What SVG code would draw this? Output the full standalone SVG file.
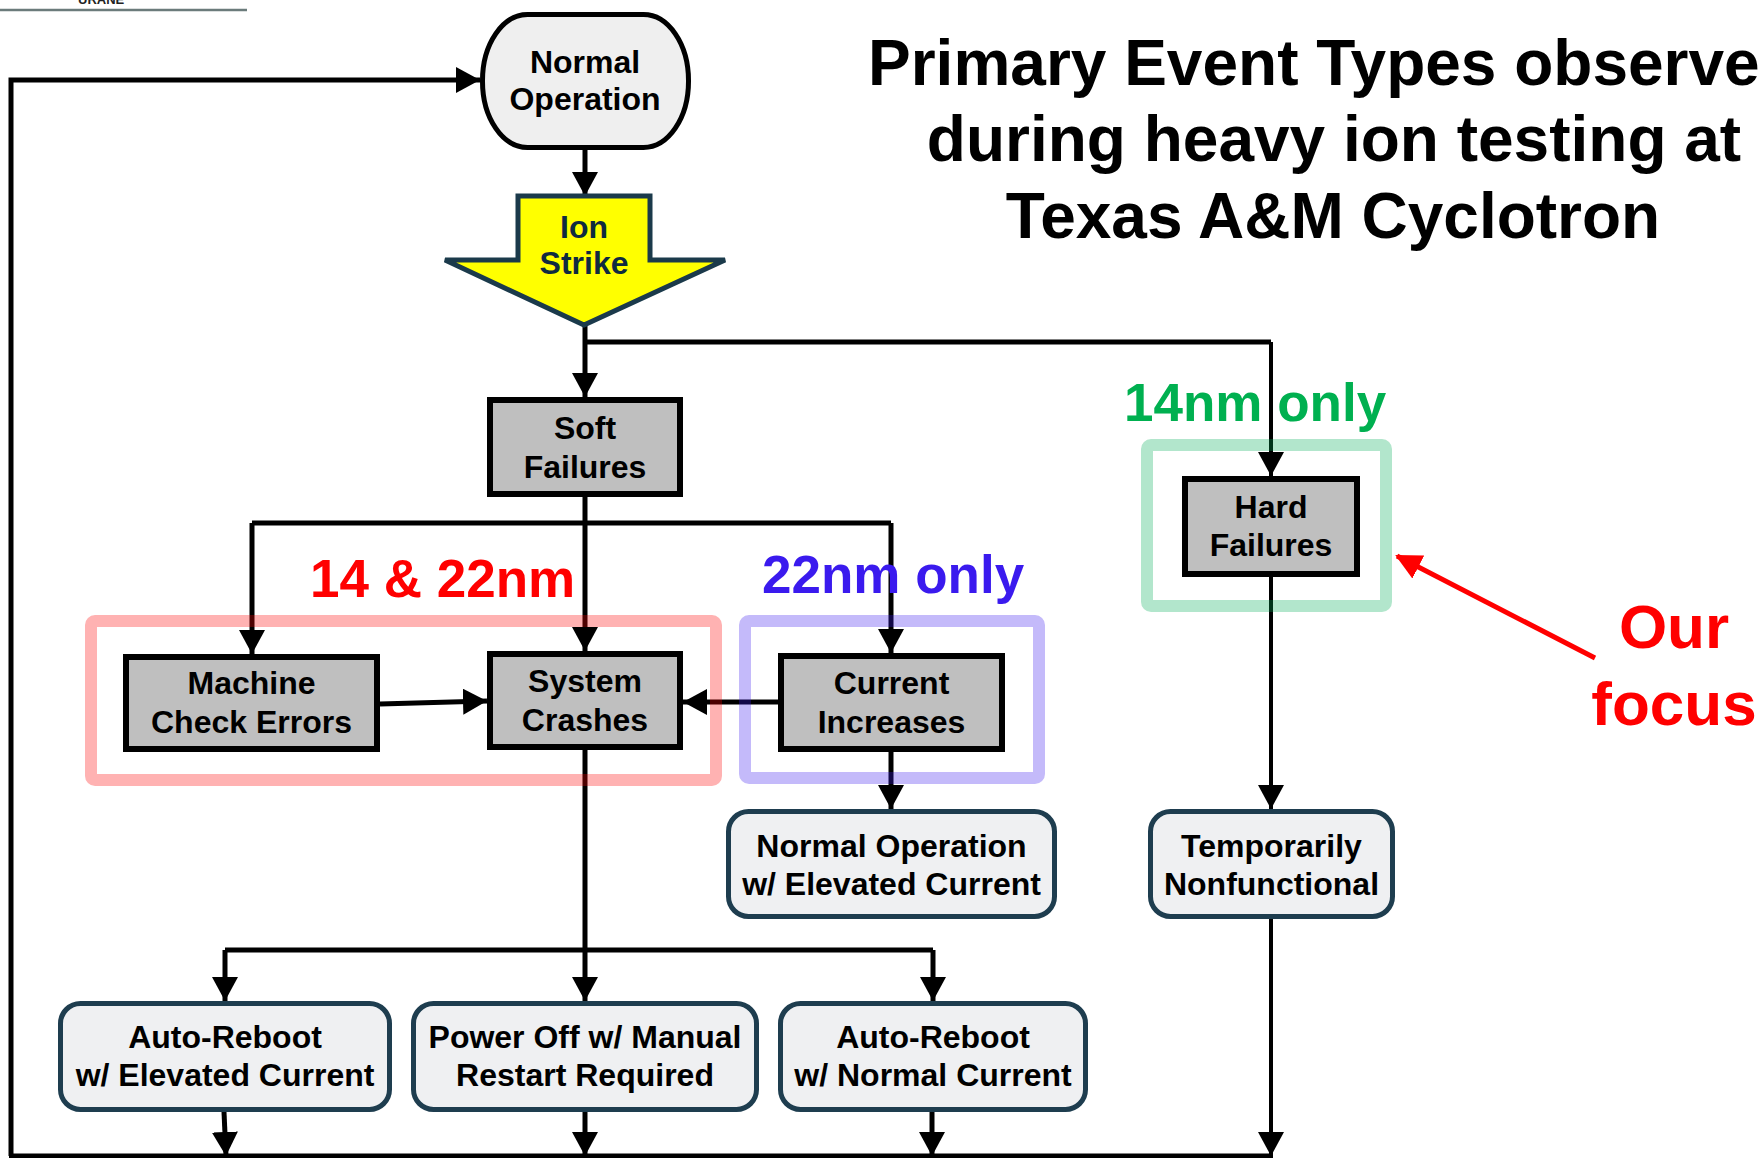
<svg xmlns="http://www.w3.org/2000/svg" width="1764" height="1158" viewBox="0 0 1764 1158">
<defs>
<style>
text{font-family:"Liberation Sans",Arial,Helvetica,sans-serif;font-weight:bold}
.nt{font-size:32px;fill:#000;text-anchor:middle}
.gray{fill:#bfbfbf;stroke:#000;stroke-width:6}
.out{fill:#eff0f2;stroke:#1e3d4f;stroke-width:5}
.ln{fill:none;stroke:#000;stroke-width:5}
.lt{fill:none;stroke:#000;stroke-width:4}
.arr{marker-end:url(#ah)}
.hl{fill:none;stroke-width:12;opacity:0.3}
.lab{font-size:53px}
</style>
<marker id="ah" viewBox="0 0 24 26" refX="24" refY="13" markerWidth="24" markerHeight="26" markerUnits="userSpaceOnUse" orient="auto">
<path d="M0,0 L24,13 L0,26 Z" fill="#000"/>
</marker>
<marker id="ahr" viewBox="0 0 26 26" refX="24" refY="13" markerWidth="26" markerHeight="26" markerUnits="userSpaceOnUse" orient="auto">
<path d="M0,0 L26,13 L0,26 Z" fill="#ff0000"/>
</marker>
</defs>
<rect width="1764" height="1158" fill="#fff"/>

<g id="logo-fragment">
<text x="78" y="4" font-size="13" fill="#222">URANE</text>
<line x1="0" y1="10" x2="247" y2="10" stroke="#6b7b7b" stroke-width="2.5"/>
</g>

<g id="title">
<text x="868" y="85" style="font-size:64px">Primary Event Types observe</text>
<text x="1334" y="161" text-anchor="middle" style="font-size:64px">during heavy ion testing at</text>
<text x="1333" y="238" text-anchor="middle" style="font-size:64px">Texas A&amp;M Cyclotron</text>
</g>

<g id="connectors">
<path class="ln arr" d="M11,1156 V80 H480"/>
<path class="ln" d="M9,1156 H1273"/>
<path class="ln arr" d="M585,150 V196"/>
<path class="ln arr" d="M585,325 V397"/>
<path class="ln" d="M585,342 H1271"/>
<path class="lt arr" d="M1271,342 V476"/>
<path class="ln arr" d="M585,497 V651"/>
<path class="ln" d="M252,523 H891"/>
<path class="ln arr" d="M252,523 V654"/>
<path class="ln arr" d="M891,523 V653"/>
<path class="ln arr" d="M380,704 L487,701"/>
<path class="ln arr" d="M778,702 H683"/>
<path class="ln arr" d="M891,752 V809"/>
<path class="lt arr" d="M1271,577 V809"/>
<path class="ln arr" d="M585,750 V1001"/>
<path class="ln" d="M225,950 H933"/>
<path class="ln arr" d="M225,950 V1001"/>
<path class="ln arr" d="M933,950 V1001"/>
<path class="ln arr" d="M224,1112 L226,1156"/>
<path class="ln arr" d="M585,1112 V1156"/>
<path class="ln arr" d="M932,1112 V1156"/>
<path class="lt arr" d="M1271,919 V1156"/>
</g>

<g id="normal-operation">
<rect x="482.5" y="14.5" width="206" height="133" rx="45" ry="66" fill="#efefef" stroke="#000" stroke-width="5"/>
<text class="nt" x="585" y="73">Normal</text>
<text class="nt" x="585" y="110">Operation</text>
</g>

<g id="ion-strike">
<path d="M518,196 H650 V260 H725 L584,325 L445,260 H518 Z" fill="#ffff00" stroke="#1b3a4b" stroke-width="5" stroke-linejoin="miter"/>
<text class="nt" x="584" y="238" style="fill:#0f2a40">Ion</text>
<text class="nt" x="584" y="274" style="fill:#0f2a40">Strike</text>
</g>

<g id="soft-failures">
<rect class="gray" x="490" y="400" width="190" height="94"/>
<text class="nt" x="585" y="439">Soft</text>
<text class="nt" x="585" y="478">Failures</text>
</g>

<g id="machine-check-errors">
<rect class="gray" x="126" y="657" width="251" height="92"/>
<text class="nt" x="251.5" y="694">Machine</text>
<text class="nt" x="251.5" y="733">Check Errors</text>
</g>

<g id="system-crashes">
<rect class="gray" x="490" y="654" width="190" height="93"/>
<text class="nt" x="585" y="692">System</text>
<text class="nt" x="585" y="731">Crashes</text>
</g>

<g id="current-increases">
<rect class="gray" x="781" y="656" width="221" height="93"/>
<text class="nt" x="891.5" y="694">Current</text>
<text class="nt" x="891.5" y="733">Increases</text>
</g>

<g id="hard-failures">
<rect class="gray" x="1185" y="479" width="172" height="95"/>
<text class="nt" x="1271" y="518">Hard</text>
<text class="nt" x="1271" y="556">Failures</text>
</g>

<g id="normal-op-elevated">
<rect class="out" x="728.5" y="811.5" width="326" height="105" rx="20"/>
<text class="nt" x="891.5" y="857">Normal Operation</text>
<text class="nt" x="891.5" y="895">w/ Elevated Current</text>
</g>

<g id="temporarily-nonfunctional">
<rect class="out" x="1150.5" y="811.5" width="242" height="105" rx="20"/>
<text class="nt" x="1271.5" y="857">Temporarily</text>
<text class="nt" x="1271.5" y="895">Nonfunctional</text>
</g>

<g id="auto-reboot-elevated">
<rect class="out" x="60.5" y="1003.5" width="329" height="106" rx="20"/>
<text class="nt" x="225" y="1048">Auto-Reboot</text>
<text class="nt" x="225" y="1086">w/ Elevated Current</text>
</g>

<g id="power-off">
<rect class="out" x="413.5" y="1003.5" width="343" height="106" rx="20"/>
<text class="nt" x="585" y="1048">Power Off w/ Manual</text>
<text class="nt" x="585" y="1086">Restart Required</text>
</g>

<g id="auto-reboot-normal">
<rect class="out" x="780.5" y="1003.5" width="305" height="106" rx="20"/>
<text class="nt" x="933" y="1048">Auto-Reboot</text>
<text class="nt" x="933" y="1086">w/ Normal Current</text>
</g>

<g id="highlight-14-22">
<rect class="hl" x="91" y="621" width="625" height="159" rx="4" stroke="#ff0000"/>
<text class="lab" x="310" y="597" fill="#ff0000">14 &amp; 22nm</text>
</g>

<g id="highlight-22">
<rect class="hl" x="745" y="621" width="294" height="157" rx="4" stroke="#3a1aee"/>
<text class="lab" x="762" y="593" fill="#3a1aee">22nm only</text>
</g>

<g id="highlight-14">
<rect class="hl" x="1147" y="445" width="239" height="161" rx="4" stroke="#00ab55"/>
<text class="lab" x="1124" y="421" fill="#00b050">14nm only</text>
</g>

<g id="our-focus">
<line x1="1595" y1="658" x2="1397" y2="556" stroke="#ff0000" stroke-width="5" marker-end="url(#ahr)"/>
<text x="1674" y="648" text-anchor="middle" fill="#ff0000" style="font-size:62px">Our</text>
<text x="1674" y="725" text-anchor="middle" fill="#ff0000" style="font-size:62px">focus</text>
</g>
</svg>
